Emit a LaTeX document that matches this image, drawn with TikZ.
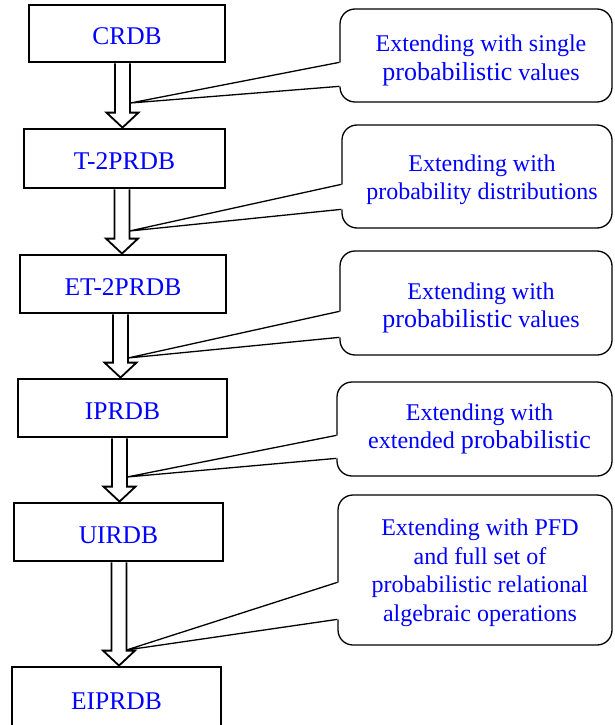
\documentclass[tikz,border=0pt]{standalone}
\usepackage{fontspec}
\setmainfont{Liberation Serif}
\usetikzlibrary{calc}
\tikzset{db/.style = {draw, line width=2.8pt, inner sep=0, text=blue,
    text height=22pt, text depth=0pt, font=\fontsize{25.5pt}{30pt}\selectfont}}
\tikzset{note/.style = {draw, line width=1.3pt, rounded corners=15pt, inner sep=0,
    text=blue, font=\fontsize{24pt}{28.5pt}\selectfont}}
\tikzset{lead/.style = {line width=1.3pt}}
\tikzset{hollow/.style = {line width=1.8pt, line join=miter,
    to path={let \p1=(\tikztostart), \p2=(\tikztotarget) in
      (\x1-7.5pt,\y1) -- (\x1-7.5pt,\y2+15pt) -- (\x1-16pt,\y2+15pt) -- (\x1,\y2)
      -- (\x1+16pt,\y2+15pt) -- (\x1+7.5pt,\y2+15pt) -- (\x1+7.5pt,\y1)}}}
\newcommand\probword{{\fontsize{26pt}{28.5pt}\selectfont probabilistic}}
\newcommand\notetext[2]{\raisebox{#1}[\height][\depth]{\hspace{10pt}\begin{tabular}{@{}c@{}}#2\end{tabular}}}

\begin{document}
\begin{tikzpicture}[x=1pt, y=-1pt]
    \useasboundingbox (0,0) rectangle (614,725);
    \node [db, minimum width=196, minimum height=57] (b1) at (127, 33.5) {CRDB};
    \node [db, minimum width=201, minimum height=59] (b2) at (124.5, 158.5) {T-2PRDB};
    \node [db, minimum width=206, minimum height=58] (b3) at (123, 284) {ET-2PRDB};
    \node [db, minimum width=209, minimum height=58] (b4) at (122.5, 408) {IPRDB};
    \node [db, minimum width=209, minimum height=58] (b5) at (118.5, 532) {UIRDB};
    \node [db, minimum width=209, minimum height=62] (b6) at (116.5, 698) {EIPRDB};
    \draw [hollow] ([xshift=-4.5]b1.south) to (b2.north);
    \draw [hollow] ([xshift=-2.5]b2.south) to (b3.north);
    \draw [hollow] ([xshift=-2.5]b3.south) to (b4.north);
    \draw [hollow] ([xshift=-3]b4.south) to (b5.north);
    \draw [hollow] ([xshift=0.5]b5.south) to (b6.north);
    \node [note, minimum width=272, minimum height=93] (c1) at (476, 55.5)
      {\notetext{-5pt}{Extending with single\\ \probword{} values}};
    \node [note, minimum width=270, minimum height=103] (c2) at (477, 176.5)
      {\notetext{-3.5pt}{Extending with\\ probability distributions}};
    \node [note, minimum width=272, minimum height=104] (c3) at (476, 303)
      {\notetext{-5pt}{Extending with\\ \probword{} values}};
    \node [note, minimum width=275, minimum height=94] (c4) at (474.5, 429)
      {\notetext{0pt}{Extending with\\ extended \probword}};
    \node [note, minimum width=274, minimum height=150] (c5) at (475, 570)
      {\notetext{-3pt}{Extending with PFD\\ and full set of\\ probabilistic relational\\ algebraic operations}};
    \coordinate (t1) at (130.5, 103);
    \coordinate (t2) at (129.5, 231);
    \coordinate (t3) at (128, 358);
    \coordinate (t4) at (127, 477);
    \coordinate (t5) at (126.5, 650);
    \foreach \i/\u/\l in {1/54/78, 2/60/85, 3/61/87, 4/54/77, 5/88/125}{
      \fill [white] (t\i) -- ([shift={(2,\u)}]c\i.north west)
        -- ([shift={(2,\l)}]c\i.north west) -- cycle;
      \draw [lead] ([shift={(0,\u)}]c\i.north west) -- (t\i)
        -- ([shift={(0,\l)}]c\i.north west);
    }
\end{tikzpicture}
\end{document}
